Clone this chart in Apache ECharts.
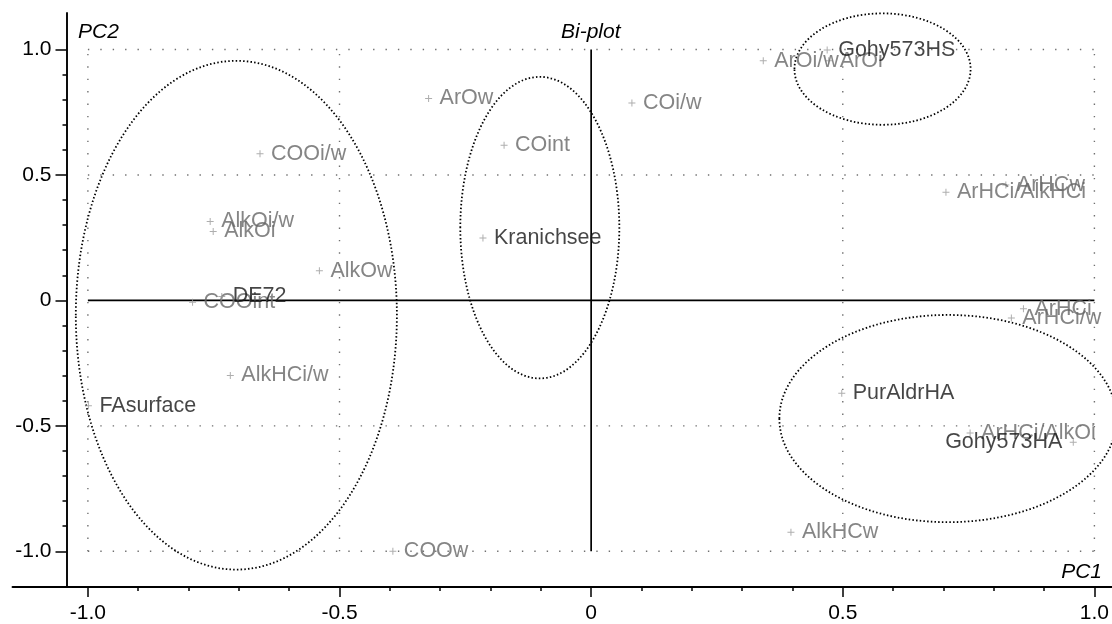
<!DOCTYPE html>
<html>
<head>
<meta charset="utf-8">
<script src="https://cdn.jsdelivr.net/npm/echarts@6/dist/echarts.min.js"></script>
<style>
html,body{margin:0;padding:0;background:#fff;}
#chart{width:1112px;height:624px;}
</style>
</head>
<body>
<div id="chart"></div>
<script>
// ---- data ----
const variableNames = ['ArOw','COOi/w','COint','AlkOi/w','AlkOi','AlkOw','COOint','AlkHCi/w','COOw','COi/w','ArOi/w','ArOi','ArHCi/AlkHCi','ArHCw','ArHCi','ArHCi/w','ArHCi/AlkOi','AlkHCw'];
const variablePC1 = [-0.323,-0.658,-0.173,-0.757,-0.751,-0.540,-0.792,-0.717,-0.394,0.081,0.342,0.472,0.705,0.824,0.859,0.835,0.753,0.397];
const variablePC2 = [0.805,0.585,0.618,0.315,0.275,0.118,-0.007,-0.299,-1.000,0.787,0.955,0.955,0.431,0.460,-0.033,-0.070,-0.529,-0.924];

const sampleNames = ['Gohy573HS','Kranichsee','DE72','FAsurface','PurAldrHA','Gohy573HA'];
const samplePC1 = [0.469,-0.215,-0.734,-0.999,0.498,0.958];
const samplePC2 = [0.998,0.249,0.016,-0.420,-0.370,-0.565];
const sampleLabelSide = ['right','right','right','right','right','left'];

// ellipses: centre PC1, centre PC2, radius PC1, radius PC2
const ellipseCX = [-0.705,-0.102,0.579,0.709];
const ellipseCY = [-0.059,0.290,0.922,-0.471];
const ellipseRX = [0.319,0.158,0.175,0.335];
const ellipseRY = [1.014,0.601,0.222,0.413];

const xMajorTicks = [-1,-0.5,0,0.5,1];
const xMinorTicks = [-1,-0.9,-0.8,-0.7,-0.6,-0.5,-0.4,-0.3,-0.2,-0.1,0,0.1,0.2,0.3,0.4,0.5,0.6,0.7,0.8,0.9,1];
const yMajorTicks = [-1,-0.5,0,0.5,1];
const yMinorTicks = [-1,-0.9,-0.8,-0.7,-0.6,-0.5,-0.4,-0.3,-0.2,-0.1,0,0.1,0.2,0.3,0.4,0.5,0.6,0.7,0.8,0.9,1];
const gridXValues = [-1,-0.5,0.5,1];
const gridYValues = [1,0.5,-0.5,-1];
const xRange = [-1.1498, 1.0348];
const yRange = [-1.1424, 1.1456];
const boxLimit = [-1, 1];

// ---- chart ----
const FONT = '"Liberation Sans", Arial, sans-serif';
const chart = echarts.init(document.getElementById('chart'), null, {renderer:'canvas'});
const fmt = v => (Math.abs(v) < 1e-9 ? '0' : v.toFixed(1));
const plus = 'path://M3,0h1v3h3v1h-3v3h-1v-3h-3v-1h3z';

const series = [];
gridXValues.forEach(v => series.push({
  type:'line', data:[[v, boxLimit[0]],[v, boxLimit[1]]], symbol:'none', silent:true, z:1,
  lineStyle:{color:'#707070', width:1.4, type:[1.4,11]}
}));
gridYValues.forEach(v => series.push({
  type:'line', data:[[boxLimit[0], v],[boxLimit[1], v]], symbol:'none', silent:true, z:1,
  lineStyle:{color:'#707070', width:1.4, type:[1.4,11]}
}));
series.push({type:'line', data:[[boxLimit[0],0],[boxLimit[1],0]], symbol:'none', silent:true, z:2,
  lineStyle:{color:'#000', width:1.7}});
series.push({type:'line', data:[[0,boxLimit[0]],[0,boxLimit[1]]], symbol:'none', silent:true, z:2,
  lineStyle:{color:'#000', width:1.7}});

series.push({
  type:'custom', z:3, clip:false, silent:true,
  data: ellipseCX.map((c,i)=>[c, ellipseCY[i], ellipseRX[i], ellipseRY[i]]),
  encode:{x:0, y:1},
  renderItem:(params, api) => {
    const c = api.coord([api.value(0), api.value(1)]);
    const s = api.size([api.value(2), api.value(3)]);
    return {type:'ellipse', shape:{cx:c[0], cy:c[1], rx:s[0], ry:s[1]},
      style:{fill:null, stroke:'#000', lineWidth:1.8, lineDash:[1.5,2.2]}};
  }
});

series.push({
  name:'Variables', type:'scatter', z:5, symbol:plus, symbolSize:7,
  itemStyle:{color:'#9a9a9a'},
  data: variableNames.map((n,i)=>({name:n, value:[variablePC1[i], variablePC2[i]]})),
  label:{show:true, position:'right', distance:7.5, formatter:'{b}', color:'#666666',
    fontFamily:FONT, fontSize:21.5}
});
series.push({
  name:'Samples', type:'scatter', z:6, symbol:plus, symbolSize:7,
  itemStyle:{color:'#9a9a9a'},
  data: sampleNames.map((n,i)=>({name:n, value:[samplePC1[i], samplePC2[i]],
    label:{position:sampleLabelSide[i]}})),
  label:{show:true, position:'right', distance:7.5, formatter:'{b}', color:'#161616',
    fontFamily:FONT, fontSize:21.5}
});

const axisBase = {type:'value', min:xRange[0], max:xRange[1], splitLine:{show:false}};
chart.setOption({
  animation:false,
  backgroundColor:'#fff',
  title:{text:'Bi-plot', left:561, top:22, padding:0,
    textStyle:{fontFamily:FONT, fontSize:21, fontStyle:'italic', fontWeight:'normal', color:'#000'}},
  graphic:[
    {type:'text', left:78, top:22, style:{text:'PC2', font:'italic 21px "Liberation Sans", Arial, sans-serif', fill:'#000'}},
    {type:'text', right:10, top:562, style:{text:'PC1', font:'italic 21px "Liberation Sans", Arial, sans-serif', fill:'#000'}}
  ],
  grid:{left:12.5, right:0, top:13, bottom:33, containLabel:false},
  xAxis:[
    Object.assign({}, axisBase, {
      position:'bottom',
      axisLine:{show:true, onZero:false, lineStyle:{color:'#000', width:1.9}},
      axisTick:{show:true, length:10, customValues:xMajorTicks, lineStyle:{color:'#000', width:1.5}},
      axisLabel:{show:true, customValues:xMajorTicks, formatter:fmt, margin:16,
        fontFamily:FONT, fontSize:21, color:'#000'}
    }),
    Object.assign({}, axisBase, {
      position:'bottom',
      axisLine:{show:false, onZero:false},
      axisTick:{show:true, length:4, customValues:xMinorTicks, lineStyle:{color:'#000', width:1.5}},
      axisLabel:{show:false}
    })
  ],
  yAxis:[
    {type:'value', min:yRange[0], max:yRange[1], position:'left', offset:-54, splitLine:{show:false},
      axisLine:{show:true, onZero:false, lineStyle:{color:'#000', width:1.9}},
      axisTick:{show:true, length:11, customValues:yMajorTicks, lineStyle:{color:'#000', width:1.5}},
      axisLabel:{show:true, customValues:yMajorTicks, formatter:fmt, margin:15,
        fontFamily:FONT, fontSize:21, color:'#000'}},
    {type:'value', min:yRange[0], max:yRange[1], position:'left', offset:-54, splitLine:{show:false},
      axisLine:{show:false, onZero:false},
      axisTick:{show:true, length:4, customValues:yMinorTicks, lineStyle:{color:'#000', width:1.5}},
      axisLabel:{show:false}}
  ],
  series: series
});
</script>
</body>
</html>
